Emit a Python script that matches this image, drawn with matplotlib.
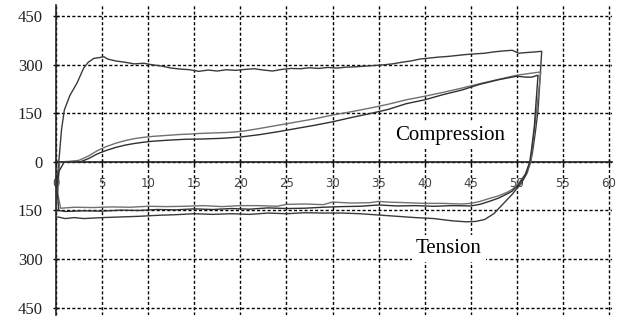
import numpy as np
import matplotlib
matplotlib.use("Agg")
import matplotlib.pyplot as plt

# Ciclo 1: curva de compressão superior (pico ~320)
comp1_x = [0.0, 0.05, 0.15, 0.3, 0.6, 0.9, 1.5, 2.3, 3.0, 3.5, 4.1, 4.6, 5.2, 5.6, 6.5, 7.5,
           8.5, 9.5, 10.5, 11.5, 12.5, 13.5, 14.5, 15.5, 16.5, 17.5, 18.5, 19.5, 20.5, 21.5,
           22.5, 23.5, 24.5, 25.5, 26.5, 27.5, 28.5, 29.5, 30.5, 31.5, 32.5, 33.5, 34.5, 35.5,
           36.5, 37.5, 38.5, 39.5, 40.5, 41.5, 42.5, 43.5, 44.5, 45.5, 46.5, 47.5, 48.5, 49.5,
           50.2, 51.0, 52.0, 52.7]
comp1_y = [-150, -100, -50, 0, 100, 160, 205, 245, 290, 308, 320, 322, 325, 318, 312, 308,
           303, 305, 300, 296, 290, 287, 285, 280, 284, 281, 285, 283, 286, 288,
           284, 281, 286, 289, 288, 291, 289, 292, 290, 293, 294, 296, 298, 300,
           303, 308, 312, 318, 321, 324, 326, 329, 332, 334, 336, 340, 343, 345,
           336, 338, 340, 342]
tens1_x = [52.7, 52.5, 52.3, 52.0, 51.7, 51.5, 51.1, 50.5, 49.5, 48.5, 47.5, 46.5, 45.5, 44.5,
           43, 41, 39, 37, 35, 33, 31, 29, 27, 25, 23, 21, 19, 17, 15, 13, 11, 9, 7, 5, 3, 2,
           1, 0.2]
tens1_y = [342, 250, 160, 90, 30, 0, -35, -65, -100, -130, -160, -178, -184, -185,
           -182, -175, -172, -168, -164, -160, -158, -158, -157, -160, -158, -162, -160, -162,
           -160, -163, -165, -168, -170, -172, -175, -172, -175, -170]

# Ciclo 2: compressão intermediária
comp2_x = [0.4, 1.5, 2.5, 3.5, 4.5, 5.5, 6.5, 7.5, 8.5, 9.5, 10.5, 11.5, 12.5, 13.5, 14.5,
           15.5, 16.5, 17.5, 18.5, 19.5, 20.5, 22, 24, 26, 28, 30, 32, 34, 36, 38, 40, 42, 44,
           46, 48, 50, 51, 52, 52.6]
comp2_y = [0, 2, 5, 18, 35, 48, 58, 66, 72, 76, 79, 81, 83, 85, 86,
           88, 89, 90, 91, 93, 96, 103, 113, 123, 133, 145, 155, 166, 178, 192, 203, 215, 228,
           242, 255, 268, 272, 276, 278]
tens2_x = [52.6, 52.3, 52.0, 51.7, 51.5, 51.0, 50.3, 49.5, 49, 48, 47, 46, 45, 44, 42, 40, 38,
           36, 35, 34, 32, 30, 29, 27, 25, 24, 22, 20, 18, 16, 14, 12, 10, 8, 6, 4, 2, 0.5,
           0.2, 0.3, 0.4]
tens2_y = [278, 200, 120, 50, 0, -35, -62, -85, -93, -105, -113, -122, -128, -130, -128, -128,
           -126, -124, -122, -126, -127, -124, -132, -130, -131, -137, -135, -135, -138, -135,
           -137, -138, -137, -140, -139, -141, -140, -143, -100, -40, 0]

# Ciclo 3: compressão inferior
comp3_x = [0.4, 1.5, 2.6, 3.5, 4.5, 5.5, 6.5, 7.5, 8.5, 9.5, 10.5, 12, 14, 16, 18, 20, 22, 24,
           26, 28, 30, 32, 34, 36, 38, 40, 42, 44, 46, 48, 50, 51, 51.6, 52.3]
comp3_y = [0, 0, 0, 10, 25, 36, 45, 52, 57, 61, 64, 67, 70, 71, 73, 77, 84, 93,
           103, 113, 124, 137, 149, 162, 180, 192, 208, 222, 240, 254, 265, 262, 262, 268]
tens3_x = [52.3, 52.1, 51.9, 51.6, 51.4, 50.9, 50.2, 49.5, 49, 48, 47, 46, 45, 43, 41, 39, 37,
           35, 33, 31, 29, 27, 25, 23, 21, 19, 17, 15, 13, 11, 9, 7, 5, 3, 1, 0.3, 0.1, 0.3,
           0.8]
tens3_y = [268, 190, 110, 40, 0, -40, -70, -90, -98, -112, -122, -131, -136, -135, -137, -135,
           -136, -133, -137, -138, -140, -143, -144, -142, -146, -144, -147, -145, -148, -147,
           -150, -149, -152, -151, -153, -150, -80, -30, -5]

yticks = [-450, -300, -150, 0, 150, 300, 450]
xticks = list(range(0, 61, 5))

fig = plt.figure(figsize=(6.23, 3.2), dpi=100)
ax = fig.add_axes([56 / 623, 5 / 320, (553 / 60 * 60.3) / 623, 310 / 320])

# Curvas
ax.plot(comp1_x + tens1_x, comp1_y + tens1_y, color='#3a3a3a', lw=1.0, zorder=3)
ax.plot(comp2_x + tens2_x, comp2_y + tens2_y, color='#707070', lw=1.0, zorder=3)
ax.plot(comp3_x + tens3_x, comp3_y + tens3_y, color='#303030', lw=1.0, zorder=3)

ax.set_xlim(0, 60.3)
ax.set_ylim(-473, 485)

ax.spines['top'].set_visible(False)
ax.spines['right'].set_visible(False)
ax.spines['bottom'].set_position(('data', 0))
ax.spines['left'].set_linewidth(1.2)
ax.spines['bottom'].set_linewidth(1.2)
ax.spines['left'].set_color('#222222')
ax.spines['bottom'].set_color('#222222')

ax.set_xticks(xticks)
ax.set_xticklabels([str(v) for v in xticks], family='DejaVu Sans', fontsize=8.5, color='#444444')
ax.set_yticks(yticks)
ax.set_yticklabels([str(abs(v)) for v in yticks], family='Liberation Serif', fontsize=12, color='#222222')
ax.tick_params(axis='x', direction='inout', length=5, width=1, pad=8)
ax.tick_params(axis='y', direction='inout', length=5, width=1, pad=7)

ax.grid(True, color='black', linestyle=(0, (2.2, 1.6)), linewidth=1.0, zorder=1)
ax.set_axisbelow(True)

box = dict(facecolor='white', edgecolor='none', pad=3)
ax.text(42.8, 68, 'Compression', family='Liberation Serif', fontsize=15,
        ha='center', va='baseline', bbox=box, zorder=2)
ax.text(42.6, -281, 'Tension', family='Liberation Serif', fontsize=15,
        ha='center', va='baseline', bbox=box, zorder=2)

fig.savefig('out.png', dpi=100)
